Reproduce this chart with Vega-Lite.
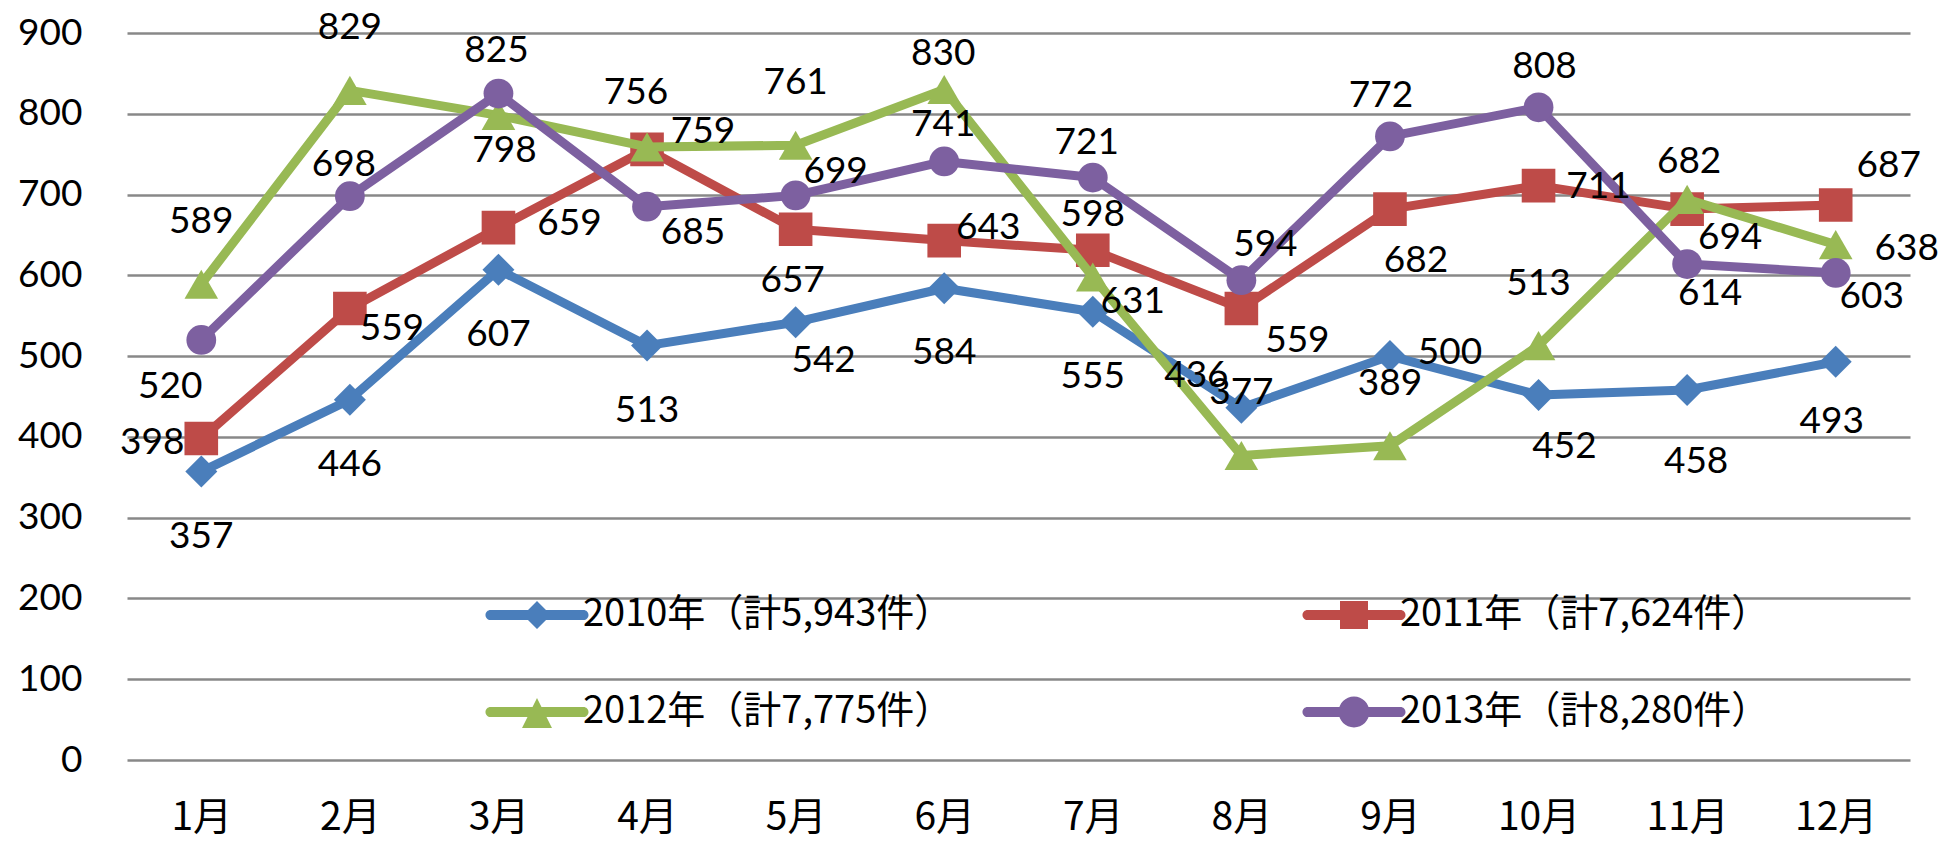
{
  "$schema": "https://vega.github.io/schema/vega-lite/v6.json",
  "width": 1783,
  "height": 727,
  "autosize": "none",
  "padding": {"left": 127, "top": 33, "right": 38, "bottom": 81},
  "background": "white",
  "config": {
    "view": {"stroke": null},
    "text": {"font": "Lato", "fontSize": 37, "align": "center", "baseline": "middle"}
  },
  "data": {
    "values": [
      {"m": 1, "year": 2010, "series": "2010年（計5,943件）", "v": 357},
      {"m": 2, "year": 2010, "series": "2010年（計5,943件）", "v": 446},
      {"m": 3, "year": 2010, "series": "2010年（計5,943件）", "v": 607},
      {"m": 4, "year": 2010, "series": "2010年（計5,943件）", "v": 513},
      {"m": 5, "year": 2010, "series": "2010年（計5,943件）", "v": 542},
      {"m": 6, "year": 2010, "series": "2010年（計5,943件）", "v": 584},
      {"m": 7, "year": 2010, "series": "2010年（計5,943件）", "v": 555},
      {"m": 8, "year": 2010, "series": "2010年（計5,943件）", "v": 436},
      {"m": 9, "year": 2010, "series": "2010年（計5,943件）", "v": 500},
      {"m": 10, "year": 2010, "series": "2010年（計5,943件）", "v": 452},
      {"m": 11, "year": 2010, "series": "2010年（計5,943件）", "v": 458},
      {"m": 12, "year": 2010, "series": "2010年（計5,943件）", "v": 493},
      {"m": 1, "year": 2011, "series": "2011年（計7,624件）", "v": 398},
      {"m": 2, "year": 2011, "series": "2011年（計7,624件）", "v": 559},
      {"m": 3, "year": 2011, "series": "2011年（計7,624件）", "v": 659},
      {"m": 4, "year": 2011, "series": "2011年（計7,624件）", "v": 756},
      {"m": 5, "year": 2011, "series": "2011年（計7,624件）", "v": 657},
      {"m": 6, "year": 2011, "series": "2011年（計7,624件）", "v": 643},
      {"m": 7, "year": 2011, "series": "2011年（計7,624件）", "v": 631},
      {"m": 8, "year": 2011, "series": "2011年（計7,624件）", "v": 559},
      {"m": 9, "year": 2011, "series": "2011年（計7,624件）", "v": 682},
      {"m": 10, "year": 2011, "series": "2011年（計7,624件）", "v": 711},
      {"m": 11, "year": 2011, "series": "2011年（計7,624件）", "v": 682},
      {"m": 12, "year": 2011, "series": "2011年（計7,624件）", "v": 687},
      {"m": 1, "year": 2012, "series": "2012年（計7,775件）", "v": 589},
      {"m": 2, "year": 2012, "series": "2012年（計7,775件）", "v": 829},
      {"m": 3, "year": 2012, "series": "2012年（計7,775件）", "v": 798},
      {"m": 4, "year": 2012, "series": "2012年（計7,775件）", "v": 759},
      {"m": 5, "year": 2012, "series": "2012年（計7,775件）", "v": 761},
      {"m": 6, "year": 2012, "series": "2012年（計7,775件）", "v": 830},
      {"m": 7, "year": 2012, "series": "2012年（計7,775件）", "v": 598},
      {"m": 8, "year": 2012, "series": "2012年（計7,775件）", "v": 377},
      {"m": 9, "year": 2012, "series": "2012年（計7,775件）", "v": 389},
      {"m": 10, "year": 2012, "series": "2012年（計7,775件）", "v": 513},
      {"m": 11, "year": 2012, "series": "2012年（計7,775件）", "v": 694},
      {"m": 12, "year": 2012, "series": "2012年（計7,775件）", "v": 638},
      {"m": 1, "year": 2013, "series": "2013年（計8,280件）", "v": 520},
      {"m": 2, "year": 2013, "series": "2013年（計8,280件）", "v": 698},
      {"m": 3, "year": 2013, "series": "2013年（計8,280件）", "v": 825},
      {"m": 4, "year": 2013, "series": "2013年（計8,280件）", "v": 685},
      {"m": 5, "year": 2013, "series": "2013年（計8,280件）", "v": 699},
      {"m": 6, "year": 2013, "series": "2013年（計8,280件）", "v": 741},
      {"m": 7, "year": 2013, "series": "2013年（計8,280件）", "v": 721},
      {"m": 8, "year": 2013, "series": "2013年（計8,280件）", "v": 594},
      {"m": 9, "year": 2013, "series": "2013年（計8,280件）", "v": 772},
      {"m": 10, "year": 2013, "series": "2013年（計8,280件）", "v": 808},
      {"m": 11, "year": 2013, "series": "2013年（計8,280件）", "v": 614},
      {"m": 12, "year": 2013, "series": "2013年（計8,280件）", "v": 603}
    ]
  },
  "encoding": {
    "x": {
      "field": "m", "type": "ordinal",
      "scale": {"type": "point", "padding": 0.5},
      "axis": {"title": null, "labelExpr": "datum.label + '月'", "labelAngle": 0, "domain": false, "ticks": false, "tickSize": 0, "grid": false,
               "labelFont": "Noto Sans CJK JP", "labelFontSize": 39, "labelColor": "#000000", "labelPadding": 57, "labelBaseline": "middle"}
    },
    "y": {
      "field": "v", "type": "quantitative",
      "scale": {"domain": [0, 900], "nice": false, "zero": true},
      "axis": {"title": null, "values": [0, 100, 200, 300, 400, 500, 600, 700, 800, 900], "domain": false, "ticks": false, "tickSize": 0,
               "labelFont": "Lato", "labelFontSize": 37, "labelColor": "#000000", "labelPadding": 45,
               "grid": true, "gridColor": "#888888", "gridWidth": 2.5}
    }
  },
  "layer": [
    {"transform": [{"filter": "datum.year == 2010"}], "mark": {"type": "line", "strokeWidth": 9, "strokeJoin": "round", "strokeCap": "round", "color": "#4A7EBB"}},
    {"transform": [{"filter": "datum.year == 2010"}], "mark": {"type": "point", "shape": "diamond", "filled": true, "size": 1024, "opacity": 1, "strokeWidth": 0, "color": "#4A7EBB"}},
    {"transform": [{"filter": "datum.year == 2011"}], "mark": {"type": "line", "strokeWidth": 9, "strokeJoin": "round", "strokeCap": "round", "color": "#BE4B48"}},
    {"transform": [{"filter": "datum.year == 2011"}], "mark": {"type": "point", "shape": "square", "filled": true, "size": 1130, "opacity": 1, "strokeWidth": 0, "color": "#BE4B48"}},
    {"transform": [{"filter": "datum.year == 2012"}], "mark": {"type": "line", "strokeWidth": 9, "strokeJoin": "round", "strokeCap": "round", "color": "#98B954"}},
    {"transform": [{"filter": "datum.year == 2012"}], "mark": {"type": "point", "shape": "triangle-up", "filled": true, "size": 1130, "opacity": 1, "strokeWidth": 0, "color": "#98B954"}},
    {"transform": [{"filter": "datum.year == 2013"}], "mark": {"type": "line", "strokeWidth": 9, "strokeJoin": "round", "strokeCap": "round", "color": "#7D60A0"}},
    {"transform": [{"filter": "datum.year == 2013"}], "mark": {"type": "point", "shape": "circle", "filled": true, "size": 887, "opacity": 1, "strokeWidth": 0, "color": "#7D60A0"}},
    {
      "mark": {"type": "point", "filled": true, "opacity": 0, "strokeWidth": 0},
      "encoding": {
        "color": {
          "field": "series", "type": "nominal",
          "scale": {"domain": ["2010年（計5,943件）", "2011年（計7,624件）", "2012年（計7,775件）", "2013年（計8,280件）"],
                    "range": ["#4A7EBB", "#BE4B48", "#98B954", "#7D60A0"]},
          "legend": {"title": null, "orient": "none", "direction": "horizontal", "legendX": 391, "legendY": 563, "columns": 2, "columnPadding": 349, "rowPadding": 59,
                     "symbolSize": 784, "symbolStrokeWidth": 0, "symbolOpacity": 1, "labelFont": "Noto Sans CJK JP", "labelFontSize": 38,
                     "labelColor": "#000000", "labelOffset": 27, "labelLimit": 1000, "padding": 0}
        },
        "shape": {
          "field": "series", "type": "nominal",
          "scale": {"domain": ["2010年（計5,943件）", "2011年（計7,624件）", "2012年（計7,775件）", "2013年（計8,280件）"],
                    "range": [
                      "M-3.32,-0.36L3.32,-0.36A0.36,0.36 0 0 1 3.32,0.36L-3.32,0.36A0.36,0.36 0 0 1 -3.32,-0.36Z M-1,0L0,-1L1,0L0,1Z",
                      "M-3.32,-0.36L3.32,-0.36A0.36,0.36 0 0 1 3.32,0.36L-3.32,0.36A0.36,0.36 0 0 1 -3.32,-0.36Z M-1,-1L1,-1L1,1L-1,1Z",
                      "M-3.32,-0.36L3.32,-0.36A0.36,0.36 0 0 1 3.32,0.36L-3.32,0.36A0.36,0.36 0 0 1 -3.32,-0.36Z M0,-1L1.07,1.15L-1.07,1.15Z",
                      "M-3.32,-0.36L3.32,-0.36A0.36,0.36 0 0 1 3.32,0.36L-3.32,0.36A0.36,0.36 0 0 1 -3.32,-0.36Z M-1.1,0A1.1,1.1 0 1 1 1.1,0A1.1,1.1 0 1 1 -1.1,0Z"
                    ]},
          "legend": {"title": null, "orient": "none", "direction": "horizontal", "legendX": 391, "legendY": 563, "columns": 2, "columnPadding": 349, "rowPadding": 59,
                     "symbolSize": 784, "symbolStrokeWidth": 0, "symbolOpacity": 1, "labelFont": "Noto Sans CJK JP", "labelFontSize": 38,
                     "labelColor": "#000000", "labelOffset": 27, "labelLimit": 1000, "padding": 0}
        }
      }
    },
    {
      "encoding": {"text": {"field": "v", "type": "quantitative"}},
      "mark": {"type": "text", "opacity": 0},
      "layer": [
        {"transform": [{"filter": "indexof([201001,201002,201003,201004,201006,201007], datum.year*100+datum.m) >= 0"}], "mark": {"type": "text", "dx": 0, "dy": 65, "color": "#000000"}},
        {"transform": [{"filter": "datum.year*100+datum.m == 201012"}], "mark": {"type": "text", "dx": -4, "dy": 60, "color": "#000000"}},
        {"transform": [{"filter": "datum.year*100+datum.m == 201005"}], "mark": {"type": "text", "dx": 28, "dy": 39, "color": "#000000"}},
        {"transform": [{"filter": "datum.year*100+datum.m == 201008"}], "mark": {"type": "text", "dx": -45, "dy": -32, "color": "#000000"}},
        {"transform": [{"filter": "datum.year*100+datum.m == 201009"}], "mark": {"type": "text", "dx": 60, "dy": -3, "color": "#000000"}},
        {"transform": [{"filter": "indexof([201010,201109], datum.year*100+datum.m) >= 0"}], "mark": {"type": "text", "dx": 26, "dy": 52, "color": "#000000"}},
        {"transform": [{"filter": "datum.year*100+datum.m == 201011"}], "mark": {"type": "text", "dx": 9, "dy": 72, "color": "#000000"}},
        {"transform": [{"filter": "datum.year*100+datum.m == 201101"}], "mark": {"type": "text", "dx": -49, "dy": 4, "color": "#000000"}},
        {"transform": [{"filter": "datum.year*100+datum.m == 201102"}], "mark": {"type": "text", "dx": 42, "dy": 21, "color": "#000000"}},
        {"transform": [{"filter": "datum.year*100+datum.m == 201103"}], "mark": {"type": "text", "dx": 71, "dy": -4, "color": "#000000"}},
        {"transform": [{"filter": "datum.year*100+datum.m == 201104"}], "mark": {"type": "text", "dx": -11, "dy": -56, "color": "#000000"}},
        {"transform": [{"filter": "datum.year*100+datum.m == 201105"}], "mark": {"type": "text", "dx": -3, "dy": 52, "color": "#000000"}},
        {"transform": [{"filter": "datum.year*100+datum.m == 201106"}], "mark": {"type": "text", "dx": 44, "dy": -13, "color": "#000000"}},
        {"transform": [{"filter": "datum.year*100+datum.m == 201107"}], "mark": {"type": "text", "dx": 40, "dy": 52, "color": "#000000"}},
        {"transform": [{"filter": "datum.year*100+datum.m == 201108"}], "mark": {"type": "text", "dx": 56, "dy": 33, "color": "#000000"}},
        {"transform": [{"filter": "datum.year*100+datum.m == 201110"}], "mark": {"type": "text", "dx": 60, "dy": 1, "color": "#000000"}},
        {"transform": [{"filter": "datum.year*100+datum.m == 201111"}], "mark": {"type": "text", "dx": 2, "dy": -47, "color": "#000000"}},
        {"transform": [{"filter": "datum.year*100+datum.m == 201112"}], "mark": {"type": "text", "dx": 53, "dy": -39, "color": "#000000"}},
        {"transform": [{"filter": "indexof([201201,201202,201205,201207,201208,201209,201210], datum.year*100+datum.m) >= 0"}], "mark": {"type": "text", "dx": 0, "dy": -62, "color": "#000000"}},
        {"transform": [{"filter": "datum.year*100+datum.m == 201203"}], "mark": {"type": "text", "dx": 6, "dy": 36, "color": "#000000"}},
        {"transform": [{"filter": "datum.year*100+datum.m == 201204"}], "mark": {"type": "text", "dx": 56, "dy": -15, "color": "#000000"}},
        {"transform": [{"filter": "indexof([201206,201306], datum.year*100+datum.m) >= 0"}], "mark": {"type": "text", "dx": -1, "dy": -36, "color": "#000000"}},
        {"transform": [{"filter": "datum.year*100+datum.m == 201211"}], "mark": {"type": "text", "dx": 43, "dy": 39, "color": "#000000"}},
        {"transform": [{"filter": "datum.year*100+datum.m == 201212"}], "mark": {"type": "text", "dx": 71, "dy": 4, "color": "#000000"}},
        {"transform": [{"filter": "datum.year*100+datum.m == 201301"}], "mark": {"type": "text", "dx": -31, "dy": 47, "color": "#000000"}},
        {"transform": [{"filter": "datum.year*100+datum.m == 201302"}], "mark": {"type": "text", "dx": -6, "dy": -31, "color": "#000000"}},
        {"transform": [{"filter": "datum.year*100+datum.m == 201303"}], "mark": {"type": "text", "dx": -2, "dy": -43, "color": "#000000"}},
        {"transform": [{"filter": "datum.year*100+datum.m == 201304"}], "mark": {"type": "text", "dx": 46, "dy": 26, "color": "#000000"}},
        {"transform": [{"filter": "datum.year*100+datum.m == 201305"}], "mark": {"type": "text", "dx": 40, "dy": -23, "color": "#000000"}},
        {"transform": [{"filter": "datum.year*100+datum.m == 201307"}], "mark": {"type": "text", "dx": -6, "dy": -35, "color": "#000000"}},
        {"transform": [{"filter": "datum.year*100+datum.m == 201308"}], "mark": {"type": "text", "dx": 24, "dy": -35, "color": "#000000"}},
        {"transform": [{"filter": "datum.year*100+datum.m == 201309"}], "mark": {"type": "text", "dx": -9, "dy": -40, "color": "#000000"}},
        {"transform": [{"filter": "datum.year*100+datum.m == 201310"}], "mark": {"type": "text", "dx": 6, "dy": -40, "color": "#000000"}},
        {"transform": [{"filter": "datum.year*100+datum.m == 201311"}], "mark": {"type": "text", "dx": 23, "dy": 30, "color": "#000000"}},
        {"transform": [{"filter": "datum.year*100+datum.m == 201312"}], "mark": {"type": "text", "dx": 36, "dy": 24, "color": "#000000"}}
      ]
    }
  ]
}
